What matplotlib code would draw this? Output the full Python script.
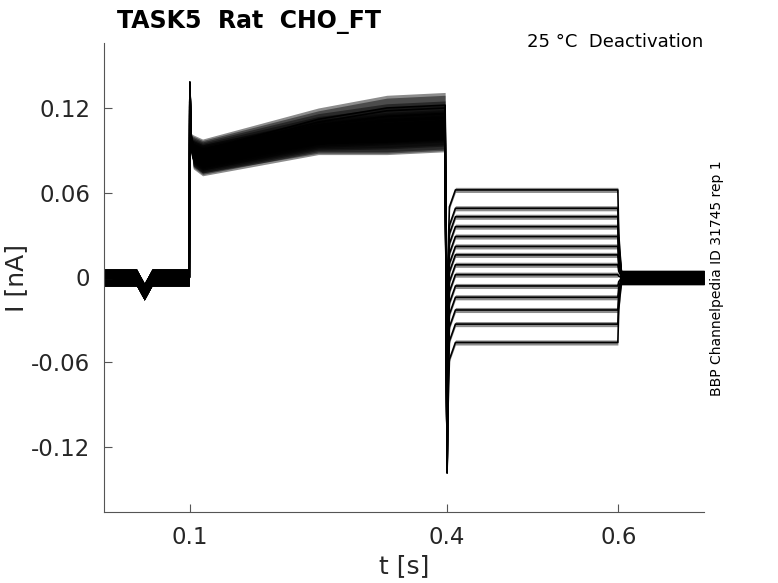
import matplotlib
matplotlib.use('Agg')
import matplotlib.pyplot as plt
import numpy as np

# sample times shared by all sweeps (s)
t_pts = [0.0, 0.038, 0.047, 0.056, 0.0995, 0.1002, 0.1015, 0.104, 0.115, 0.25, 0.33, 0.398,
         0.4003, 0.4012, 0.403, 0.41, 0.5995, 0.6005, 0.604, 0.7]

# per-sweep levels (nA)
act_start = [0.080, 0.082, 0.084, 0.085, 0.086, 0.087, 0.083, 0.081, 0.088, 0.089, 0.084, 0.086, 0.090, 0.082]
act_mid = [0.095, 0.098, 0.100, 0.102, 0.104, 0.106, 0.099, 0.097, 0.108, 0.110, 0.101, 0.103, 0.112, 0.096]
act_end = [0.098, 0.102, 0.105, 0.108, 0.110, 0.113, 0.103, 0.100, 0.116, 0.120, 0.106, 0.109, 0.122, 0.099]
tail = [0.062, 0.049, 0.043, 0.036, 0.029, 0.022, 0.016, 0.009, 0.002, -0.006, -0.014, -0.023, -0.033, -0.046]

base_dip = -0.010
on_peak = 0.138
off_peak = -0.138

# approximate noise half-width of each phase (nA)
noise_pts = [0.006, 0.006, 0.006, 0.006, 0.006, 0.0, 0.0, 0.007, 0.008, 0.008, 0.009, 0.009,
             0.0, 0.0, 0.0015, 0.0018, 0.0018, 0.0, 0.005, 0.005]

fig = plt.figure(figsize=(7.78, 5.83), dpi=100)
ax = fig.add_axes([104/778, 1 - 512/583, 600/778, 469/583])

for i in range(len(tail)):
    v = [0, 0, base_dip, 0, 0, on_peak, act_start[i] + 0.012, act_start[i] + 0.004, act_start[i],
         act_mid[i], act_end[i] - 0.002, act_end[i],
         off_peak, tail[i] - 0.05, tail[i] - 0.012, tail[i], tail[i], tail[i] * 0.5, 0, 0]
    v = np.array(v)
    n = np.array(noise_pts)
    ax.fill_between(t_pts, v - n, v + n, color='black', alpha=0.45, linewidth=0)
    ax.plot(t_pts, v, color='black', linewidth=1.2)

ax.set_xlim(0, 0.7)
ax.set_ylim(-0.166, 0.166)
ax.set_xticks([0.1, 0.4, 0.6])
ax.set_xticklabels(['0.1', '0.4', '0.6'])
ax.set_yticks([-0.12, -0.06, 0, 0.06, 0.12])
ax.set_yticklabels(['-0.12', '-0.06', '0', '0.06', '0.12'])
ax.tick_params(direction='in', length=6, width=0.8, colors='#555555', labelcolor='#262626',
               labelsize=16.5, pad=10)
for s in ['top', 'right']:
    ax.spines[s].set_visible(False)
for s in ['left', 'bottom']:
    ax.spines[s].set_color('#555555')
    ax.spines[s].set_linewidth(0.8)

ax.set_xlabel('t [s]', fontsize=18, color='#262626', labelpad=4)
ax.set_ylabel('I [nA]', fontsize=18, color='#262626', labelpad=2)

fig.text(117/778, 1 - 28/583, 'TASK5  Rat  CHO_FT', fontsize=17, fontweight='bold',
         ha='left', va='baseline')
fig.text(703/778, 1 - 47/583, '25 °C  Deactivation', fontsize=13, ha='right', va='baseline')
fig.text(717/778, 1 - 278/583, 'BBP Channelpedia ID 31745 rep 1', fontsize=10,
         rotation=90, ha='center', va='center')

fig.savefig('out.png', dpi=100)
